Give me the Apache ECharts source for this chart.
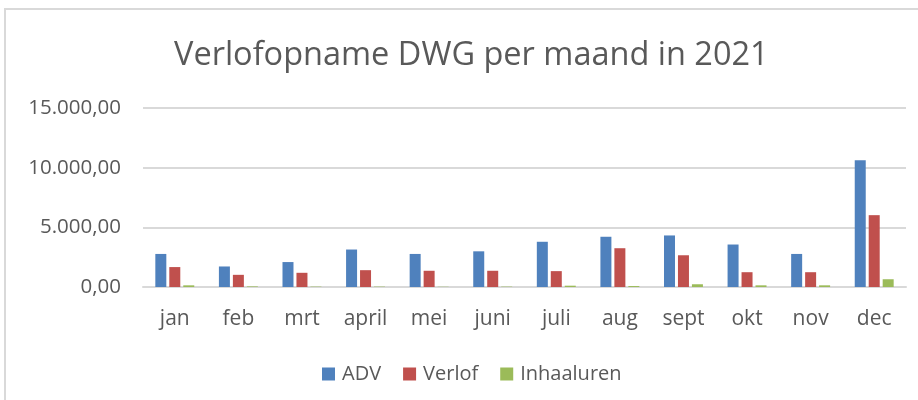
<!DOCTYPE html>
<html>
<head>
<meta charset="utf-8">
<script src="https://cdn.jsdelivr.net/npm/echarts@6/dist/echarts.min.js"></script>
<style>
html, body { margin: 0; padding: 0; background: #fff; }
#main { width: 918px; height: 400px; }
</style>
</head>
<body>
<div id="main"></div>
<script>
// maanden
var months = ['jan', 'feb', 'mrt', 'april', 'mei', 'juni', 'juli', 'aug', 'sept', 'okt', 'nov', 'dec'];
// uren per categorie
var adv = [2770, 1720, 2090, 3140, 2770, 2990, 3790, 4210, 4320, 3560, 2770, 10620];
var verlof = [1670, 1020, 1190, 1410, 1360, 1360, 1330, 3250, 2660, 1240, 1240, 6020];
var inhaalUren = [140, 50, 30, 30, 20, 30, 110, 80, 230, 140, 140, 650];

function nlFormat(v) {
    var parts = v.toFixed(2).split('.');
    parts[0] = parts[0].replace(/\B(?=(\d{3})+(?!\d))/g, '.');
    return parts[0] + ',' + parts[1];
}

var fontFam = '"Open Sans", "Noto Sans", sans-serif';
var myChart = echarts.init(document.getElementById('main'));
myChart.setOption({
    animation: false,
    title: {
        text: 'Verlofopname DWG per maand in 2021',
        left: 169,
        top: 34,
        textStyle: { fontFamily: fontFam, fontSize: 32.5, fontWeight: 'normal', color: '#595959' }
    },
    graphic: [{
        type: 'rect',
        shape: { x: 5, y: 9, width: 930, height: 420 },
        style: { fill: 'none', stroke: '#d9d9d9', lineWidth: 2 }
    }],
    legend: {
        data: ['ADV', 'Verlof', 'Inhaaluren'],
        left: 317,
        top: 359,
        itemWidth: 13,
        itemHeight: 13,
        itemGap: 22,
        icon: 'rect',
        textStyle: { fontFamily: fontFam, fontSize: 20, color: '#595959', padding: [0, 0, 0, 2] }
    },
    grid: { left: 143, right: 12, top: 108, bottom: 113 },
    xAxis: {
        type: 'category',
        data: months,
        axisLine: { lineStyle: { color: '#d9d9d9', width: 2 } },
        axisTick: { show: false },
        axisLabel: { fontFamily: fontFam, fontSize: 21, color: '#595959', margin: 22 }
    },
    yAxis: {
        type: 'value',
        min: 0,
        max: 15000,
        interval: 5000,
        axisLine: { show: false },
        axisTick: { show: false },
        splitLine: { lineStyle: { color: '#d9d9d9', width: 2 } },
        axisLabel: { fontFamily: fontFam, fontSize: 20.5, color: '#595959', margin: 22, formatter: nlFormat }
    },
    series: [
        { name: 'ADV', type: 'bar', data: adv, barWidth: 11, barGap: '27%', itemStyle: { color: '#4F81BD' } },
        { name: 'Verlof', type: 'bar', data: verlof, barWidth: 11, barGap: '27%', itemStyle: { color: '#C0504D' } },
        { name: 'Inhaaluren', type: 'bar', data: inhaalUren, barWidth: 11, barGap: '27%', itemStyle: { color: '#9BBB59' } }
    ]
});
</script>
</body>
</html>
